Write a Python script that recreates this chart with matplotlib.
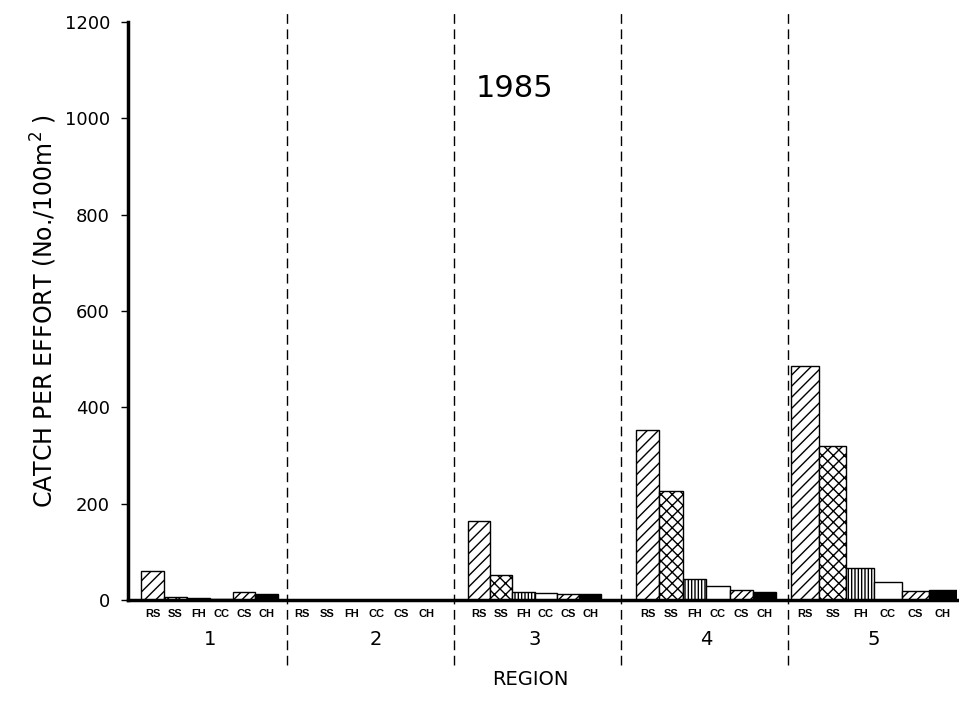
import matplotlib
matplotlib.use("Agg")
import matplotlib.pyplot as plt
import numpy as np

species = ["RS", "SS", "FH", "CC", "CS", "CH"]
regions = ["1", "2", "3", "4", "5"]
cpue = {
    "1": [60, 6, 4, 2, 17, 12],
    "2": [0, 0, 0, 0, 0, 0],
    "3": [164, 52, 17, 15, 12, 12],
    "4": [352, 226, 43, 29, 21, 16],
    "5": [485, 319, 66, 37, 19, 20],
}
yticks = [0, 200, 400, 600, 800, 1000, 1200]
year = "1985"

hatches = ["///", "xxx", "|||||", "", "////", ""]
faces = ["white", "white", "white", "white", "white", "black"]

plt.rcParams["font.family"] = ["DejaVu Sans"]
plt.rcParams["hatch.linewidth"] = 1.0

fig = plt.figure(figsize=(9.59, 7.06), dpi=100)
ax = fig.add_axes([128/959, 106/706, 829/959, (600-22)/706])

# layout (bar group placement within each region)
widths = [0.137, 0.149, 0.133, 0.14, 0.165]
offsets = [0.126, 0.015, 0.084, 0.09, 0.02]
for ri, r in enumerate(regions):
    w = widths[ri]
    for si, s in enumerate(species):
        x = ri + offsets[ri] + si * w
        ax.bar(x, cpue[r][si], width=w, align="edge", facecolor=faces[si],
               edgecolor="black", hatch=hatches[si], linewidth=1.0, zorder=2)
        ax.text(x + w/2, -29, s, ha="center", va="center", fontsize=8,
                fontweight="bold", family=["Liberation Sans Narrow", "Liberation Sans"],
                clip_on=False)
    lx = ri + offsets[ri] + 3 * w
    if ri == 1:
        lx += 0.07
    ax.text(lx, -82, r, ha="center", va="center", fontsize=14, clip_on=False)

for d in range(1, len(regions)):
    ax.plot([d, d], [-135, 1225], color="black", linestyle=(0, (7, 4)),
            linewidth=1.0, clip_on=False, zorder=1)

ax.set_xlim(0.048, 5.012)
ax.set_ylim(0, 1200)
ax.set_yticks(yticks)
ax.set_yticklabels([str(t) for t in yticks], fontsize=13)
ax.set_xticks([])
ax.tick_params(axis="y", direction="out", length=5, width=1, pad=8)
for sp in ["top", "right"]:
    ax.spines[sp].set_visible(False)
ax.spines["left"].set_linewidth(2.5)
ax.spines["bottom"].set_linewidth(2.5)

ax.text(2.365, 1062, year, ha="center", va="center", fontsize=22)
ax.set_ylabel("CATCH PER EFFORT (No./100m$^2$ )", fontsize=17, labelpad=4)
ax.text(2.455, -165, "REGION", ha="center", va="center", fontsize=14, clip_on=False)

fig.savefig("out.png", dpi=100)
